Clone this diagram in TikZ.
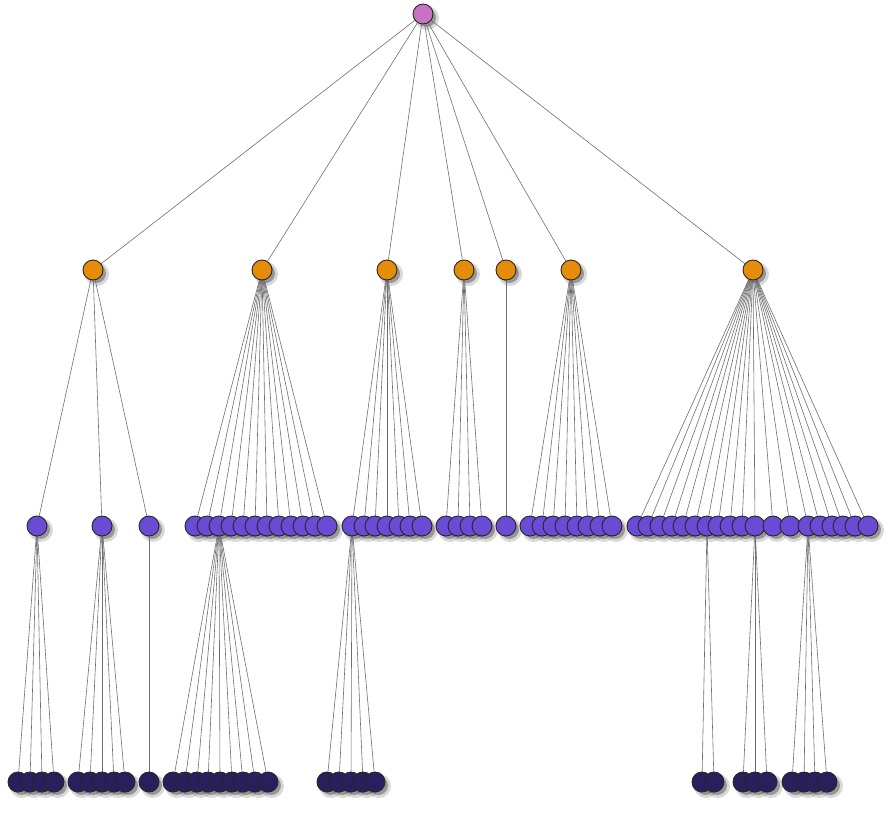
\documentclass[tikz,border=0pt]{standalone}
\usepackage{xcolor}
\usepackage{tikz}
\usetikzlibrary{
  positioning,
  backgrounds
}
\pgfdeclarelayer{shadowlayer}
\pgfsetlayers{shadowlayer,background,main}
\definecolor{trRoot}{HTML}{C870C3}
\definecolor{trTop}{HTML}{E58C0A}
\definecolor{trMid}{HTML}{6A4BD6}
\definecolor{trLeaf}{HTML}{2B1E5C}
\definecolor{trLink}{HTML}{6E6E6E}
\tikzset{
  bubble/.style={circle, draw=black!85, line width=0.9pt, minimum size=20pt, inner sep=0pt},
  rootbubble/.style={bubble, fill=trRoot},
  topbubble/.style={bubble, fill=trTop},
  midbubble/.style={bubble, fill=trMid},
  leafbubble/.style={bubble, fill=trLeaf},
  link/.style={draw=trLink, line width=0.6pt}
}
\newcommand{\blobshadow}[1]{%
  \begin{pgfonlayer}{shadowlayer}
    \fill[black, opacity=.15] ([shift={(4,4)}]#1.center) circle (12pt);
    \fill[black, opacity=.3] ([shift={(3.5,3.5)}]#1.center) circle (9.5pt);
  \end{pgfonlayer}}

\begin{document}
\begin{tikzpicture}[x=1pt, y=-1pt]
  \useasboundingbox (0,0) rectangle (892,812);
  % root
  \node[rootbubble] (root) at (423,14) {};
  \blobshadow{root}
  % first level
  \foreach \x [count=\i] in {93,262,387,464,506,571,753}{
    \node[topbubble] (o\i) at (\x,270) {};
    \blobshadow{o\i}
    \begin{pgfonlayer}{background}
      \draw[link] (root) -- (o\i);
    \end{pgfonlayer}
  }
  % second level
  \foreach \p/\xs in {1/{37,102,149},
                      2/{195,207,219,231,243,255,267,279,291,303,315,327},
                      3/{352,364,375,387,399,410,422},
                      4/{446,458,470,482},
                      5/{506},
                      6/{530,542,553,565,577,588,600,612},
                      7/{637,648,660,672,683,695,707,718,730,742,755,773,790,808,820,832,843,855,868}}{
    \foreach \x [count=\j] in \xs {
      \node[midbubble] (m\p-\j) at (\x,526) {};
      \blobshadow{m\p-\j}
      \begin{pgfonlayer}{background}
        \draw[link] (o\p) -- (m\p-\j);
      \end{pgfonlayer}
    }
  }
  % third level
  \foreach \q/\xs in {m1-1/{18,30,42,54},
                      m1-2/{78,90,102,114,125},
                      m1-3/{149},
                      m2-3/{173,185,197,208,220,232,243,255,268},
                      m3-1/{327,339,351,363,375},
                      m7-7/{702,714},
                      m7-11/{743,755,767},
                      m7-14/{792,804,815,827}}{
    \foreach \x [count=\j] in \xs {
      \node[leafbubble] (leaf-\q-\j) at (\x,782) {};
      \blobshadow{leaf-\q-\j}
      \begin{pgfonlayer}{background}
        \draw[link] (\q) -- (leaf-\q-\j);
      \end{pgfonlayer}
    }
  }
\end{tikzpicture}
\end{document}
